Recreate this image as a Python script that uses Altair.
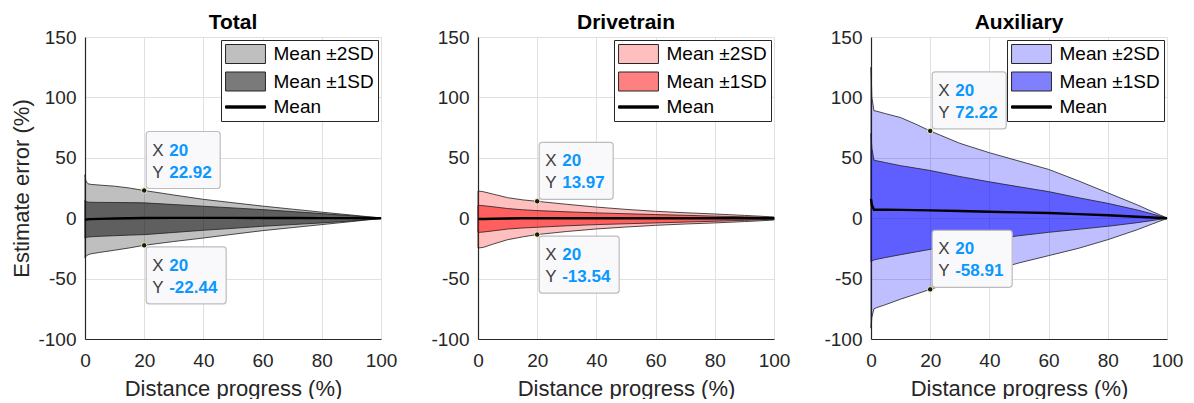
import altair as alt
import pandas as pd

FONT = "Liberation Sans"

# Shared x positions (distance progress, %)
X = [0, 0.3, 1, 2, 5, 10, 15, 20, 30, 40, 50, 60, 70, 80, 90, 95, 100]

# Total
TOT_UP2 = [36, 31, 28.5, 28, 27.4, 26.5, 25, 22.92, 19.2, 15.6, 12.8, 10, 7.5, 5.0, 2.6, 1.4, 0.3]
TOT_UP1 = [15, 14, 13.3, 13.2, 13.1, 13, 12.9, 12.7, 11.3, 9.9, 8.5, 7.1, 5.5, 3.8, 2.0, 1.1, 0.2]
TOT_MEAN = [-1.5, -1.2, -0.9, -0.8, -0.6, -0.3, 0, 0.2, 0.3, 0.3, 0.3, 0.2, 0.2, 0.1, 0.1, 0, 0]
TOT_LO1 = [-16.5, -16, -15.6, -15.4, -15, -14.5, -14, -13.6, -11.8, -10, -8.4, -6.7, -5.3, -3.9, -2.3, -1.3, -0.2]
TOT_LO2 = [-33, -31.5, -30.3, -29.5, -28.3, -26.5, -24.6, -22.44, -19.3, -16.4, -13.3, -10.3, -7.8, -5.3, -2.8, -1.5, -0.3]

# Drivetrain
DRV_UP2 = [22.5, 22.4, 22.2, 21.8, 20, 17, 15.2, 13.97, 11.5, 9.2, 7.3, 5.7, 4.5, 3.5, 2.3, 1.7, 1.0]
DRV_UP1 = [10.7, 10.6, 10.5, 10.3, 9.5, 8, 7, 6.3, 5.3, 4.4, 3.7, 3.0, 2.4, 1.7, 1.2, 0.9, 0.6]
DRV_MEAN = [-0.7, -0.7, -0.6, -0.6, -0.5, -0.3, -0.1, 0, 0, 0, 0, 0, 0, 0, 0, 0, 0]
DRV_LO1 = [-11.7, -11.7, -11.6, -11.4, -10.5, -9, -8.1, -7.5, -6.3, -5.3, -4.6, -3.9, -3.2, -2.5, -1.8, -1.3, -0.8]
DRV_LO2 = [-24.7, -24.6, -24.4, -24, -21.5, -17.8, -15.5, -13.54, -11, -8.9, -7.3, -5.9, -4.8, -3.9, -2.8, -2.2, -1.5]

# Auxiliary
AUX_UP2 = [125, 100, 89, 88.5, 86.5, 83.3, 78, 72.22, 62, 54.2, 47.3, 40.4, 31, 21, 11, 5.5, 0.2]
AUX_UP1 = [70, 58, 48, 47.5, 46, 43.5, 41.5, 39.5, 34.5, 30.1, 26, 22, 17, 12.3, 6.8, 3.5, 0.1]
AUX_MEAN = [16, 11, 7, 7, 7, 6.9, 6.7, 6.5, 5.9, 5.3, 4.8, 4.3, 3.4, 2.4, 1.2, 0.6, 0]
AUX_LO1 = [-36, -35.5, -34.5, -34, -32.5, -30.2, -28, -25.8, -21.5, -18, -14.5, -11.7, -9.2, -6.7, -3.7, -1.9, -0.1]
AUX_LO2 = [-91, -82, -75, -74, -71.5, -67, -63, -58.91, -51, -44, -37, -31, -25, -17.8, -9.5, -4.8, -0.2]

PANELS = ["Total", "Drivetrain", "Auxiliary"]
BASE_COLORS = ["#000000", "#ff0000", "#0000ff"]
LEGEND_COLORS = [["#bfbfbf", "#7a7a7a", "#000000"],
                 ["#ffbfbf", "#ff8080", "#000000"],
                 ["#bfbfff", "#8080ff", "#000000"]]
LEGEND_LABELS = ["Mean \u00b12SD", "Mean \u00b11SD", "Mean"]

# Data tips
TIP_X = [[20, 20], [20, 20], [20, 20]]
TIP_Y = [[22.92, -22.44], [13.97, -13.54], [72.22, -58.91]]
TIP_Y_TEXT = [["22.92", "-22.44"], ["13.97", "-13.54"], ["72.22", "-58.91"]]
TIP_PLACE = [["above", "below"], ["above", "below"], ["above", "above"]]

SERIES = [
    (TOT_UP2, TOT_UP1, TOT_MEAN, TOT_LO1, TOT_LO2),
    (DRV_UP2, DRV_UP1, DRV_MEAN, DRV_LO1, DRV_LO2),
    (AUX_UP2, AUX_UP1, AUX_MEAN, AUX_LO1, AUX_LO2),
]

RECT_SHAPE = "M-2.1,-1H2.1V1H-2.1Z"
LINE_SHAPE = "M-2.1,-0.12H2.1V0.12H-2.1Z"
EDGE = "#1f1f1f"


def make_panel(i):
    name = PANELS[i]
    up2, up1, mean, lo1, lo2 = SERIES[i]
    df = pd.DataFrame({"x": X, "up2": up2, "up1": up1, "mean": mean, "lo1": lo1, "lo2": lo2})

    x_axis = alt.Axis(values=[0, 20, 40, 60, 80, 100], title="Distance progress (%)",
                      labelFlush=False, grid=True, ticks=False, labelPadding=12, titlePadding=8,
                      labelExpr="'' + datum.value")
    if i == 0:
        y_axis = alt.Axis(values=[-100, -50, 0, 50, 100, 150], title="Estimate error (%)",
                          labelFlush=False, grid=True, ticks=False, labelPadding=9, titlePadding=4,
                          labelExpr="'' + datum.value")
    else:
        y_axis = alt.Axis(values=[-100, -50, 0, 50, 100, 150], title=None,
                          labelFlush=False, grid=True, ticks=False, labelPadding=9,
                          labelExpr="'' + datum.value")
    xs = alt.Scale(domain=[0, 100], nice=False)
    ys = alt.Scale(domain=[-100, 150], nice=False)

    def xe(f="x"):
        return alt.X(f + ":Q", scale=xs, axis=x_axis)

    def ye(f):
        return alt.Y(f + ":Q", scale=ys, axis=y_axis)

    base = alt.Chart(df)
    c = BASE_COLORS[i]
    band2 = base.mark_area(fill=c, fillOpacity=0.25, stroke=EDGE, strokeWidth=0.8).encode(
        x=xe(), y=ye("up2"), y2="lo2:Q")
    band1 = base.mark_area(fill=c, fillOpacity=0.5, stroke=EDGE, strokeWidth=0.8).encode(
        x=xe(), y=ye("up1"), y2="lo1:Q")
    mline = base.mark_line(color="black", strokeWidth=2.4).encode(x=xe(), y=ye("mean"))

    layers = [band2, band1, mline]

    for tx, ty, tlabel, place in zip(TIP_X[i], TIP_Y[i], TIP_Y_TEXT[i], TIP_PLACE[i]):
        w = 80 if tlabel.startswith("-") else 74
        if place == "above":
            y0, y1, rx, ry = -2, -59, -40, -18
        else:
            y0, y1, rx, ry = 1.5, 58.5, 20.5, 42.5
        tdf = pd.DataFrame({"tx": [tx], "ty": [ty], "xl": ["X"], "yl": ["Y"],
                            "xv": [str(tx)], "yv": [tlabel]})
        tb = alt.Chart(tdf)
        layers.append(tb.mark_rect(fill="#f9f9fc", stroke="#bdbdbd", strokeWidth=1.2, cornerRadius=3,
                                   xOffset=2, x2Offset=2 + w, yOffset=y0, y2Offset=y1).encode(
            x=xe("tx"), x2="tx:Q", y=ye("ty"), y2="ty:Q"))
        for lab_field, dy in (("xl", rx), ("yl", ry)):
            layers.append(tb.mark_text(align="left", baseline="middle", dx=8, dy=dy, fontSize=17,
                                       font=FONT, color="#404040").encode(
                x=xe("tx"), y=ye("ty"), text=lab_field + ":N"))
        for val_field, dy in (("xv", rx), ("yv", ry)):
            layers.append(tb.mark_text(align="left", baseline="middle", dx=25, dy=dy, fontSize=17,
                                       font=FONT, fontWeight="bold", color="#0a98ff").encode(
                x=xe("tx"), y=ye("ty"), text=val_field + ":N"))
        layers.append(tb.mark_point(filled=True, fill="#1a1a1a", stroke="#f3f3b8", strokeWidth=1,
                                    size=30, opacity=1).encode(x=xe("tx"), y=ye("ty")))

    leg = alt.Legend(title=None, orient="top-right", offset=3, padding=4, fillColor="white",
                     strokeColor="#262626", symbolSize=361, symbolOffset=10.5, labelOffset=18,
                     labelFontSize=19, labelFont=FONT, labelColor="#000000", rowPadding=3.5,
                     symbolOpacity=1, symbolStrokeWidth=1, labelLimit=300, cornerRadius=0)
    ldf = pd.DataFrame({"entry": LEGEND_LABELS})
    legend_layer = alt.Chart(ldf).mark_point(filled=True, opacity=0).encode(
        fill=alt.Fill("entry:N", scale=alt.Scale(domain=LEGEND_LABELS, range=LEGEND_COLORS[i]), legend=leg),
        stroke=alt.Stroke("entry:N", scale=alt.Scale(domain=LEGEND_LABELS,
                                                     range=["#262626", "#262626", "#000000"]), legend=leg),
        shape=alt.Shape("entry:N", scale=alt.Scale(domain=LEGEND_LABELS,
                                                   range=[RECT_SHAPE, RECT_SHAPE, LINE_SHAPE]), legend=leg),
    )
    layers.append(legend_layer)

    title = alt.TitleParams(text=name, frame="group", baseline="alphabetic", offset=-21.5,
                            fontSize=21, fontWeight="bold", font=FONT, color="#000000", anchor="middle")
    return alt.layer(*layers).properties(width=296, height=302, title=title)


chart = alt.hconcat(make_panel(0), make_panel(1), make_panel(2), spacing=33).resolve_scale(
    fill="independent", stroke="independent", shape="independent"
).properties(
    padding={"left": 2, "top": 3, "right": 0, "bottom": 0}
).configure(font=FONT).configure_axis(
    labelFont=FONT, labelFontSize=19, labelColor="#262626",
    titleFont=FONT, titleFontSize=22, titleFontWeight="normal", titleColor="#262626",
    domainColor="#262626", domainWidth=1.2, gridColor="#e0e0e0", gridWidth=1,
).configure_view(strokeWidth=0)

chart.save("out.html", embed_options={"renderer": "svg", "actions": False})
